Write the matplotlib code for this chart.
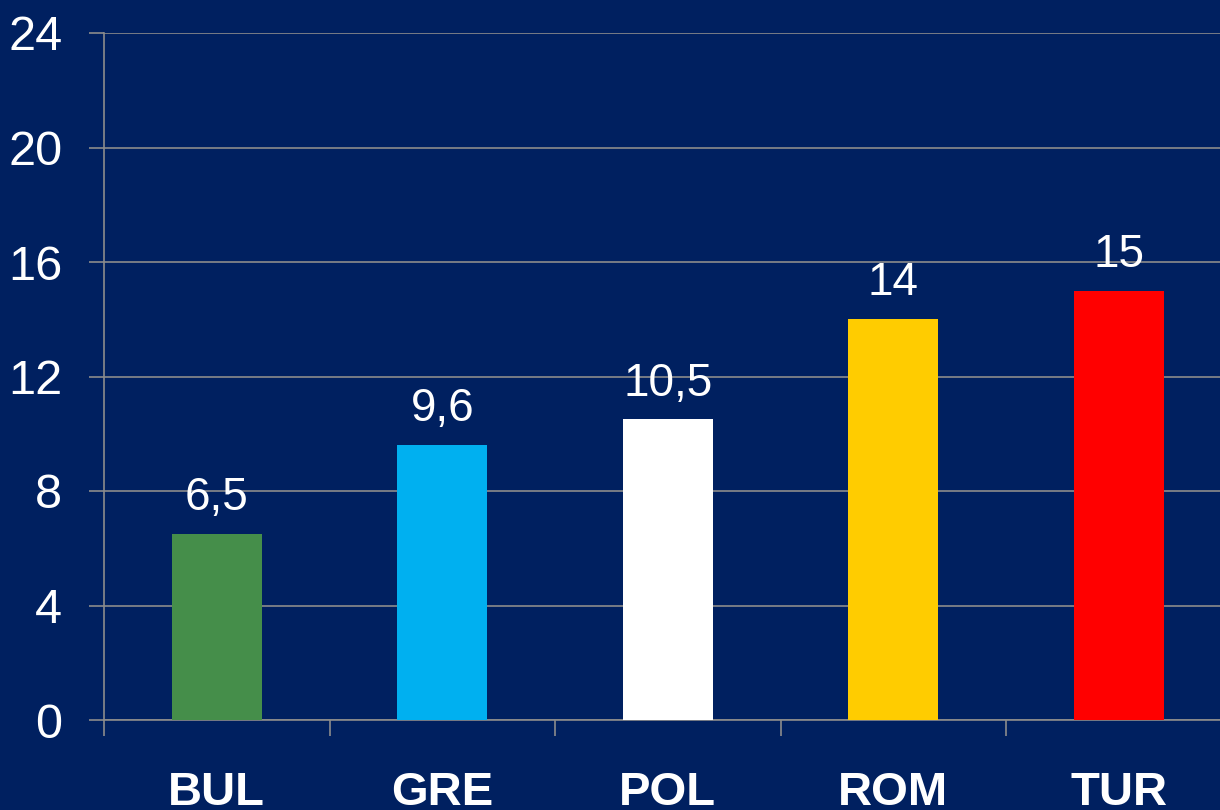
import numpy as np
import matplotlib.pyplot as plt

# data
countries = ['BUL', 'GRE', 'POL', 'ROM', 'TUR']
values = [6.5, 9.6, 10.5, 14, 15]
value_labels = ['6,5', '9,6', '10,5', '14', '15']
bar_colors = ['#458E4A', '#00B0F0', '#FFFFFF', '#FFCC00', '#FF0000']
yticks = [0, 4, 8, 12, 16, 20, 24]

bg = '#002060'
grid_c = '#8C8C8C'

plt.rcParams['font.family'] = ['Liberation Sans', 'DejaVu Sans']

fig = plt.figure(figsize=(12.2, 8.1), dpi=100, facecolor=bg)
# axes runs a bit past the right border, as in the original slide
ax = fig.add_axes([104/1220, 90/810, 1127.5/1220, 687/810], facecolor=bg)

x = np.arange(len(countries))
ax.bar(x, values, width=0.4, color=bar_colors, zorder=3)

for xi, v, lab in zip(x, values, value_labels):
    ax.annotate(lab, (xi, v), xytext=(0, 10), textcoords='offset points',
                ha='center', va='bottom', color='white', fontsize=33)

ax.set_xlim(-0.5, len(countries) - 0.5)
ax.set_ylim(0, 24)
ax.set_yticks(yticks)
ax.set_yticklabels([str(t) for t in yticks])
ax.yaxis.grid(True, color=grid_c, linewidth=1.2, zorder=0)

# labels at the bar centres, tick marks between categories
ax.set_xticks(x)
ax.set_xticklabels(countries, fontweight='bold', fontsize=34, color='white')
ax.set_xticks(np.arange(len(countries) + 1) - 0.5, minor=True)
ax.tick_params(axis='x', which='major', length=0, pad=37)
ax.tick_params(axis='x', which='minor', length=11.5, width=1.2, color=grid_c,
               direction='out')
ax.tick_params(axis='y', length=11, width=1.2, color=grid_c, pad=19,
               labelsize=35, labelcolor='white')

for s in ['top', 'right']:
    ax.spines[s].set_visible(False)
for s in ['left', 'bottom']:
    ax.spines[s].set_color(grid_c)
    ax.spines[s].set_linewidth(1.2)

fig.savefig('out.png', dpi=100, facecolor=bg)
